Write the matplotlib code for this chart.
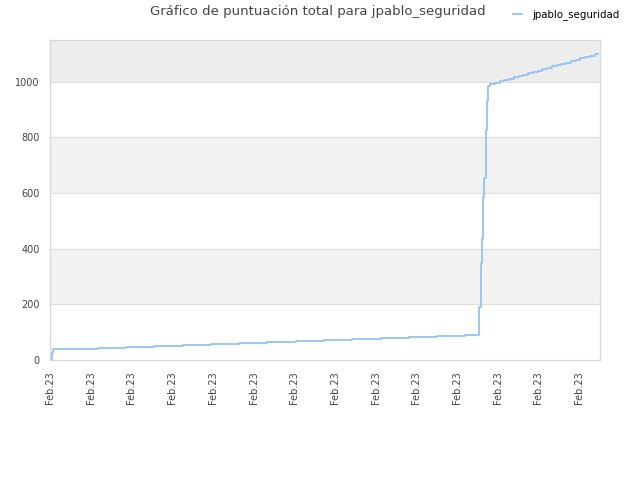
import matplotlib
matplotlib.use("Agg")
import matplotlib.pyplot as plt

# eje x: posición temporal (unidades arbitrarias), eje y: puntuación total
t_puntos = [0, 2.3, 3.3, 20, 47.7, 76, 104, 133, 161, 189, 217, 246, 274, 302,
            331, 359, 387, 415, 428.7, 429.3, 430.7, 431.7, 432.7, 433.7,
            434.3, 436, 436.7, 438.3, 440, 444.7, 449.5, 454.2, 459, 463.7,
            468.5, 473.2, 478, 482.7, 487.5, 492.2, 497, 501.7, 506.5, 511.2,
            516, 520.7, 525.5, 530.2, 535, 539.7, 544.5, 547.7]
puntos = [0, 25, 38.5, 41, 44, 48, 51, 55, 58.5, 62, 65.5, 69, 73, 76.5,
          80, 84, 87, 91, 95, 192, 349, 435, 587, 623,
          655, 827, 929, 986, 992, 996, 1001, 1006, 1011, 1016,
          1021, 1025, 1030, 1035, 1040, 1045, 1050, 1055, 1060, 1064,
          1069, 1074, 1079, 1084, 1089, 1094, 1098, 1098]

ticks_x = [0, 40.7, 81.4, 122.1, 162.8, 203.5, 244.2, 284.9, 325.6, 366.3,
           407, 447.7, 488.4, 529.1]
etiquetas_x = ["Feb.23"] * len(ticks_x)
ticks_y = [0, 200, 400, 600, 800, 1000]
bandas = [(200, 400), (600, 800), (1000, 1150)]

fig = plt.figure(figsize=(6.4, 4.8), dpi=100)
ax = fig.add_axes([50 / 640, 120 / 480, 550 / 640, 320 / 480])

for i, (y0, y1) in enumerate(bandas):
    color = "#ededed" if y1 > 1000 else "#f2f2f2"
    ax.axhspan(y0, y1, color=color, zorder=0, lw=0)
for y in ticks_y[1:]:
    ax.axhline(y, color="#dedede", lw=0.8, zorder=1)

ax.plot(t_puntos, puntos, drawstyle="steps-post", color="#94c4f4",
        lw=1.3, label="jpablo_seguridad", zorder=3)

ax.set_xlim(0, 550)
ax.set_ylim(0, 1150)
ax.set_xticks(ticks_x)
ax.set_xticklabels(etiquetas_x, rotation=90, fontsize=7, color="#444444")
ax.set_yticks(ticks_y)
ax.set_yticklabels([str(v) for v in ticks_y], fontsize=7, color="#444444")
ax.tick_params(axis="x", length=0, pad=8)
ax.tick_params(axis="y", length=0, pad=7.5)
for s in ax.spines.values():
    s.set_color("#d6d6d6")
    s.set_linewidth(0.9)

fig.text(318 / 640, 1 - 12 / 480, "Gráfico de puntuación total para jpablo_seguridad",
         ha="center", va="center", fontsize=9.5, color="#444444")
fig.legend(loc="center left", bbox_to_anchor=(513 / 640, 1 - 15 / 480),
           frameon=False, fontsize=7.4, handlelength=0.85, handletextpad=1.0,
           borderpad=0, borderaxespad=0)

fig.savefig("out.png", dpi=100)
